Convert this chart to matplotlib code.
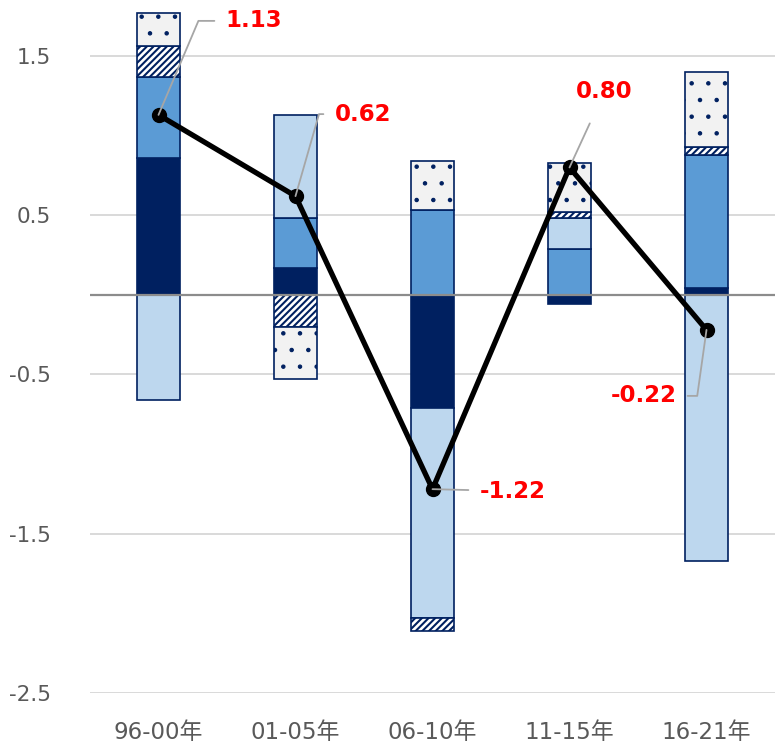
import matplotlib
matplotlib.use('Agg')
import matplotlib.pyplot as plt
import numpy as np

categories = ['96-00年', '01-05年', '06-10年', '11-15年', '16-21年']
dark = [0.86, 0.17, -0.71, -0.06, 0.04]
medium = [0.51, 0.31, 0.53, 0.29, 0.84]
light = [-0.66, 0.65, -1.32, 0.19, -1.67]
hatched = [0.19, -0.20, -0.08, 0.04, 0.05]
dotted = [0.21, -0.33, 0.31, 0.31, 0.47]
total = [1.13, 0.62, -1.22, 0.80, -0.22]
yticks = [-2.5, -1.5, -0.5, 0.5, 1.5]
ytick_labels = ['-2.5', '-1.5', '-0.5', '0.5', '1.5']

plt.rcParams['font.family'] = ['DejaVu Sans', 'Noto Sans CJK JP']

fig = plt.figure(figsize=(7.75, 7.45), dpi=100)
ax = fig.add_axes([90/775, 52/745, 685/775, 688/745])

navy = '#002060'
series = [
    (dark, dict(color=navy), 1.0),
    (medium, dict(color='#5B9BD5'), 1.0),
    (light, dict(color='#BDD7EE'), 1.0),
    (hatched, dict(color='white', hatch='/////'), 1.5),
    (dotted, dict(color='#F2F2F2', hatch='.'), 0.8),
]
x = np.arange(len(categories))
pos = np.zeros(len(x))
neg = np.zeros(len(x))
for vals, style, hlw in series:
    v = np.array(vals)
    bottom = np.where(v >= 0, pos, neg)
    with plt.rc_context({'hatch.linewidth': hlw}):
        ax.bar(x, v, 0.32, bottom=bottom, edgecolor=navy, linewidth=1.2, zorder=2, **style)
    pos += np.where(v >= 0, v, 0)
    neg += np.where(v < 0, v, 0)

ax.axhline(0, color='#8C8C8C', lw=1.6, zorder=3)
ax.plot(x, total, color='black', lw=3.8, marker='o', ms=10, zorder=5)

# data labels with leader lines
lead = dict(arrowstyle='-', color='#A6A6A6', lw=1.3, shrinkB=0)
label_specs = [
    dict(xytext=(67, 94), ha='left', conn='angle,angleA=0,angleB=67,rad=0', shrinkA=6),
    dict(xytext=(39, 82), ha='left', conn='angle,angleA=0,angleB=74,rad=0', shrinkA=6),
    dict(xytext=(47, -2), ha='left', conn='arc3', shrinkA=6),
    dict(xytext=(35, 76), ha='center', conn='arc3', shrinkA=14),
    dict(xytext=(-30, -66), ha='right', conn='angle,angleA=0,angleB=262,rad=0', shrinkA=6),
]
for xi, val, spec in zip(x, total, label_specs):
    ax.annotate(f'{val:.2f}', xy=(xi, val), xytext=spec['xytext'], textcoords='offset pixels',
                ha=spec['ha'], va='center', color='#FF0000', fontsize=16.5, fontweight='bold',
                zorder=6,
                arrowprops=dict(lead, connectionstyle=spec['conn'], shrinkA=spec['shrinkA']))

ax.set_xlim(-0.5, len(x) - 0.5)
ax.set_ylim(-2.5, 1.82)
ax.set_yticks(yticks)
ax.set_yticklabels(ytick_labels)
ax.set_xticks(x)
ax.set_xticklabels(categories)
ax.yaxis.grid(True, color='#D9D9D9', lw=1.4)
ax.set_axisbelow(True)
ax.tick_params(axis='both', length=0, colors='#595959')
ax.tick_params(axis='x', pad=20, labelsize=16.5)
ax.tick_params(axis='y', pad=28, labelsize=15.5)
for s in ax.spines.values():
    s.set_visible(False)

fig.savefig('out.png', dpi=100)
